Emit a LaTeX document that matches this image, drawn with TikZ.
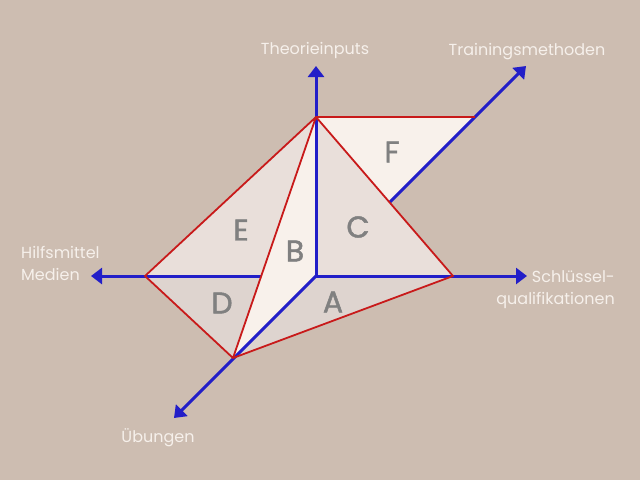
\documentclass[tikz,border=0pt]{standalone}
\usepackage{fontspec}
\setmainfont{Poppins}
\newfontfamily\letterfont{Poppins}[FakeBold=1.5]
\usepackage{tikz}
\usepackage{xcolor}
\usetikzlibrary{arrows.meta}
\definecolor{bg-brown}{RGB}{205,189,177}
\definecolor{face-light}{RGB}{248,241,235}
\definecolor{face-mid}{RGB}{233,223,218}
\definecolor{face-dark}{RGB}{222,212,207}
\definecolor{axis-blue}{RGB}{34,30,200}
\definecolor{edge-red}{RGB}{200,26,26}
\definecolor{label-white}{RGB}{246,240,235}
\definecolor{letter-gray}{RGB}{128,128,128}
\tikzset{
    axis-line/.style = {draw=axis-blue, line width=3pt, -{Triangle[width=16pt,length=11pt]}},
    face-edge/.style = {draw=edge-red, line width=1.8pt, line join=round},
    axis-label/.style = {text=label-white, font=\fontsize{16}{22}\selectfont, inner sep=0pt},
    face-label/.style = {text=letter-gray, font=\letterfont\fontsize{30}{32}\selectfont, inner sep=0pt},
}

\begin{document}
\begin{tikzpicture}[x=1pt,y=-1pt]
\fill[bg-brown] (0,0) rectangle (640,480);
\useasboundingbox (0,0) rectangle (640,480);

% vertices of the faces
\coordinate (O) at (316,276);
\coordinate (T) at (316,117);
\coordinate (R) at (453,276);
\coordinate (L) at (145,276);
\coordinate (U) at (233,358);
\coordinate (P) at (475,117);
% tips of the axes
\coordinate (tip-up) at (316,66);
\coordinate (tip-right) at (527,276);
\coordinate (tip-left) at (91,276);
\coordinate (tip-down) at (174,418);
\coordinate (tip-diag) at (526,66);

% back faces
\fill[face-light] (T) -- (P) -- (O) -- cycle;
\draw[axis-line] (O) -- (tip-diag);
\fill[face-mid] (T) -- (L) -- (O) -- cycle;
\fill[face-dark] (L) -- (U) -- (O) -- cycle;
\fill[face-dark] (O) -- (R) -- (U) -- cycle;
\fill[face-mid] (T) -- (O) -- (R) -- cycle;
\draw[axis-line] (O) -- (tip-left);

% front face
\fill[face-light] (T) -- (O) -- (U) -- cycle;
\draw[axis-line] (O) -- (tip-up);
\draw[axis-line] (O) -- (tip-right);
\draw[axis-line] (O) -- (tip-down);

% red edges
\draw[face-edge] (P) -- (T) -- (R) -- (U) -- (L) -- (T) -- (U);

% face letters
\node[face-label] (A) at (333,302) {A};
\node[face-label] (B) at (295,251) {B};
\node[face-label] (C) at (358,227) {C};
\node[face-label] (D) at (222,303) {D};
\node[face-label] (E) at (241,230) {E};
\node[face-label] (F) at (392,152) {F};

% axis labels
\node[axis-label, anchor=base] (theory) at (315,54) {Theorieinputs};
\node[axis-label, anchor=base] (training) at (527,55) {Trainingsmethoden};
\node[axis-label, anchor=base west, align=left] (media) at (21,280) {Hilfsmittel\\Medien};
\node[axis-label, anchor=base east, align=right] (skills) at (615,304) {Schlüssel-\\qualifikationen};
\node[axis-label, anchor=base] (exercise) at (158,442) {Übungen};
\end{tikzpicture}
\end{document}
